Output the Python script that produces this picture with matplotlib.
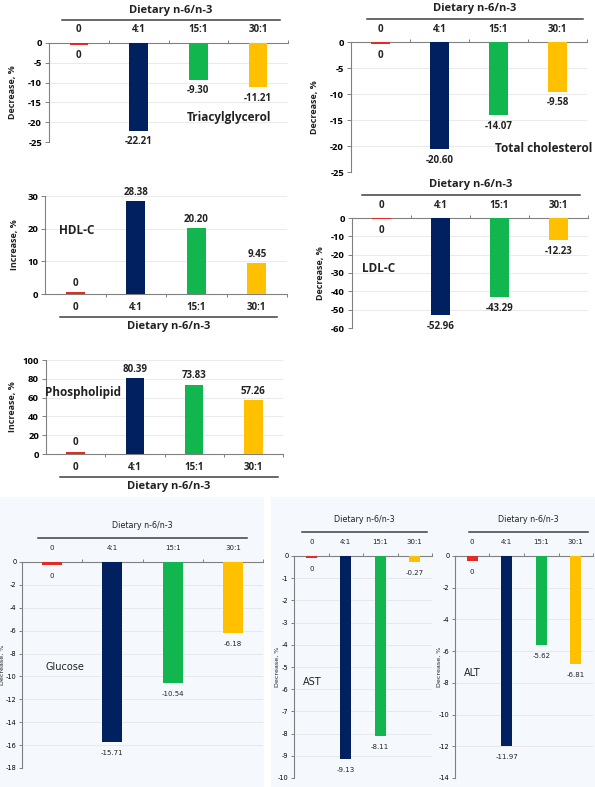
import matplotlib
matplotlib.use('Agg')
import matplotlib.pyplot as plt
from matplotlib.lines import Line2D
from matplotlib.patches import Rectangle

W, H = 595, 787

categories = ['0', '4:1', '15:1', '30:1']
colors = ['#E42A24', '#002060', '#12B64E', '#FFC000']
group_title = 'Dietary n-6/n-3'

## values (%), control group is 0 in every panel
triacylglycerol = [0, -22.21, -9.30, -11.21]
total_cholesterol = [0, -20.60, -14.07, -9.58]
hdl_c = [0, 28.38, 20.20, 9.45]
ldl_c = [0, -52.96, -43.29, -12.23]
phospholipid = [0, 80.39, 73.83, 57.26]
glucose = [0, -15.71, -10.54, -6.18]
ast = [0, -9.13, -8.11, -0.27]
alt = [0, -11.97, -5.62, -6.81]

## height of the small red stub drawn for the control bar in each panel
control_stub = [-0.4, -0.4, 0.5, -0.6, 2.5, -0.3, -0.1, -0.3]

names = ['Triacylglycerol', 'Total cholesterol', 'HDL-C', 'LDL-C',
         'Phospholipid', 'Glucose', 'AST', 'ALT']
ylabels = ['Decrease, %', 'Decrease, %', 'Increase, %', 'Decrease, %',
           'Increase, %', 'Decrease, %', 'Decrease, %', 'Decrease, %']
series = [triacylglycerol, total_cholesterol, hdl_c, ldl_c,
          phospholipid, glucose, ast, alt]
ylims = [(-25, 0), (-25, 0), (0, 30), (-60, 0), (0, 100), (-18, 0), (-10, 0), (-14, 0)]
ysteps = [5, 5, 10, 10, 20, 2, 1, 2]

## layout in pixels: axes left, right, top, bottom ; title line x0, x1 ; name pos ; ylabel x
layout = [
    dict(box=(49, 288, 43, 142), line=(62, 280), name=(187, 117), ylab=13, small=False),
    dict(box=(351, 587, 42, 172), line=(367, 583), name=(495, 148), ylab=315, small=False),
    dict(box=(45, 287, 196, 294), line=(60, 277), name=(59, 230), ylab=15, small=False),
    dict(box=(352, 588, 218, 328), line=(362, 580), name=(362, 269), ylab=320, small=False),
    dict(box=(46, 283, 360, 454), line=(60, 278), name=(45, 392), ylab=13, small=False),
    dict(box=(22, 263, 562, 768), line=(38, 247), name=(45, 667), ylab=0, small=True),
    dict(box=(294, 432, 556, 778), line=(302, 427), name=(303, 682), ylab=277, small=True),
    dict(box=(455, 593, 556, 778), line=(469, 588), name=(464, 673), ylab=439, small=True),
]

big_font = ['Open Sans', 'DejaVu Sans']
narrow_font = ['Liberation Sans Narrow', 'DejaVu Sans']

fig = plt.figure(figsize=(W / 100, H / 100), dpi=100)
fig.patch.set_facecolor('white')


def fx(x):
    return x / W


def fy(y):
    return 1 - y / H


# light background behind the lower panels
for x0, x1 in [(0, 264), (271, 595)]:
    fig.add_artist(Rectangle((fx(x0), 0), fx(x1) - fx(x0), fy(497), transform=fig.transFigure,
                             facecolor='#F5F8FC', edgecolor='none', zorder=-5))

for k in range(8):
    lay = layout[k]
    vals = series[k]
    lo, hi = ylims[k]
    neg = hi == 0
    small = lay['small']
    fam = narrow_font if small else big_font
    wt = 'normal' if small else 'bold'
    tick_fs = 4.8 if small else 6.8
    cat_fs = 5 if small else 7
    val_fs = 5 if small else 7
    title_fs = 5.8 if small else 8
    name_fs = 7 if small else 8.5

    l, r, t, b = lay['box']
    ax = fig.add_axes([fx(l), fy(b), (r - l) / W, (b - t) / H])
    ax.set_facecolor('none')
    ax.set_zorder(2)

    heights = [v if v != 0 else control_stub[k] for v in vals]
    ax.bar(range(4), heights, width=0.31 if not small else 0.33, color=colors, zorder=3)
    ax.set_xlim(-0.5, 3.5)
    ax.set_ylim(lo, hi)

    step = ysteps[k]
    yt = list(range(lo, hi + 1, step))
    ax.set_yticks(yt)
    ax.set_yticklabels([str(v) for v in yt], fontsize=tick_fs, family=fam, weight=wt)
    ax.yaxis.grid(True, color='#E6E6E6', lw=0.6, zorder=0)
    ax.set_axisbelow(True)
    ax.tick_params(axis='y', length=3 if not small else 2, width=0.7, color='#808080', pad=2)

    for s in ax.spines.values():
        s.set_visible(False)
    ax.spines['left'].set_visible(True)
    ax.spines['left'].set_color('#808080')
    ax.spines['left'].set_linewidth(0.8)
    zero_spine = 'top' if neg else 'bottom'
    ax.spines[zero_spine].set_visible(True)
    ax.spines[zero_spine].set_color('#808080')
    ax.spines[zero_spine].set_linewidth(0.8)

    ax.set_xticks([0.5, 1.5, 2.5, 3.5])
    ax.set_xticklabels([])
    ax.xaxis.set_ticks_position(zero_spine)
    ax.tick_params(axis='x', length=2.5, width=0.7, color='#808080', direction='out')

    # category labels next to the zero line
    cat_off = 13 if not small else 14
    for i, c in enumerate(categories):
        ax.annotate(c, xy=(i, 1 if neg else 0), xycoords=('data', 'axes fraction'),
                    xytext=(0, cat_off if neg else -cat_off), textcoords='offset pixels',
                    ha='center', va='center', fontsize=cat_fs, family=fam, weight=wt,
                    color='#222222')

    # value labels
    for i, v in enumerate(vals):
        txt = '0' if v == 0 else f'{v:.2f}'
        h = heights[i]
        off = -11 if h < 0 else 9
        ax.annotate(txt, xy=(i, h), xytext=(0, off), textcoords='offset pixels',
                    ha='center', va='center', fontsize=val_fs, family=fam, weight=wt,
                    color='#222222', zorder=5)

    # group title with its line
    x0, x1 = lay['line']
    if neg:
        ly = t - (23 if not small else 24)
        ty = ly - 10 if not small else ly - 12
    else:
        ly = b + 23
        ty = ly + 10
    fig.add_artist(Line2D([fx(x0), fx(x1)], [fy(ly), fy(ly)], transform=fig.transFigure,
                          color='#404040', lw=1.1))
    fig.text(fx((x0 + x1) / 2), fy(ty), group_title, ha='center', va='center',
             fontsize=title_fs, family=fam, weight=wt, color='#222222')

    # panel name
    nx, ny = lay['name']
    fig.text(fx(nx), fy(ny), names[k], ha='left', va='center', fontsize=name_fs,
             family=fam, weight=wt, color='#222222')

    # y axis label
    fig.text(fx(lay['ylab']), fy((t + b) / 2), ylabels[k], rotation=90,
             ha='left' if lay['ylab'] == 0 else 'center',
             va='center', fontsize=6.5 if not small else 4.6, family=fam, weight=wt,
             color='#222222')

fig.savefig('out.png', dpi=100)
